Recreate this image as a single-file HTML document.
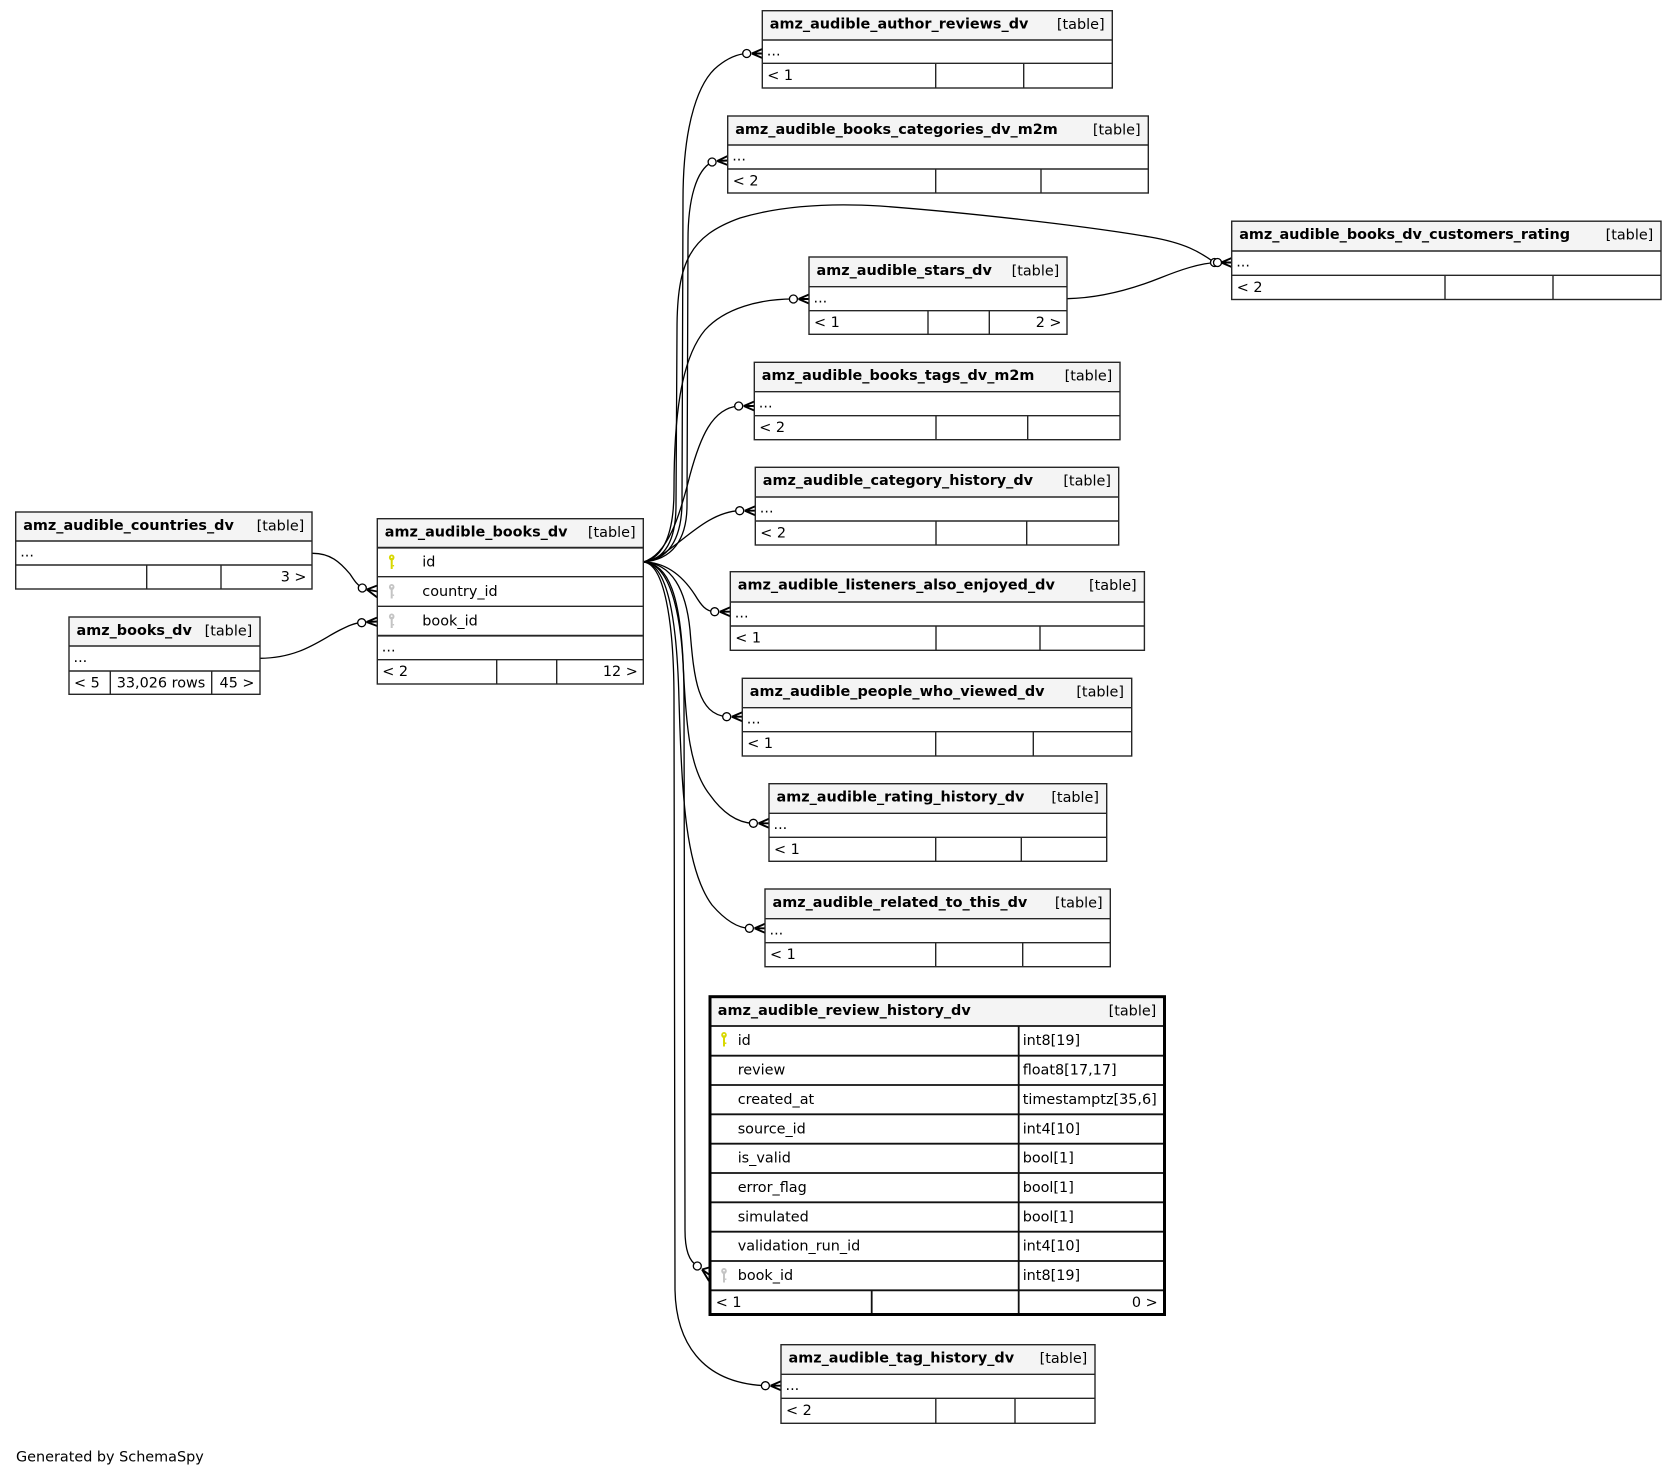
<!DOCTYPE html>
<html>
<head>
<meta charset="utf-8">
<style>
html,body{margin:0;padding:0;background:#fff;width:1677px;height:1477px;overflow:hidden;}
svg{display:block;}
text{font-family:"DejaVu Sans","Liberation Sans",sans-serif;font-size:14.4px;fill:#000;}
.b{font-weight:bold;}
.e{text-anchor:end;}
.m{text-anchor:middle;}
.hd{fill:#f4f4f4;}
.tb{fill:none;stroke:#262626;stroke-width:1.4;}
.ln{stroke:#262626;stroke-width:1.4;}
.ed{fill:none;stroke:#000;stroke-width:1.3;}
.cr{fill:none;stroke:#000;stroke-width:1.9;}
.dot{fill:#fff;stroke:#000;stroke-width:1.3;}
</style>
</head>
<body>
<svg width="1677" height="1477" viewBox="0 0 1677 1477" xmlns="http://www.w3.org/2000/svg">
<rect x="0" y="0" width="1677" height="1477" fill="#fff"/>

<!-- ================= EDGES ================= -->
<path class="ed" d="M643,562 C668,560 681,540 682,505 L683,200 C683,120 700,80 718,66 C728,58 737,54 746.7,53.5"/>
<path class="ed" d="M643,562 C672,560 687,540 687,505 L688,240 C688,200 696,170 712.1,162"/>
<path class="ed" d="M643,562 C665,560 676,540 676,505 L677,330 C677,262 690,236 740,218 C780,206 830,203 880,206 C960,212 1080,225 1150,237 C1185,243 1200,252 1214.5,262.5"/>
<path class="ed" d="M643,562 C665,558 674,530 674,490 C674,420 680,360 705,330 C725,308 760,299 793.4,299"/>
<path class="ed" d="M643,562 C668,555 680,515 690,475 C700,438 712,408 738.7,406"/>
<path class="ed" d="M643,562 C670,560 700,512 739.7,510.7"/>
<path class="ed" d="M643,562 C668,562 684,578 695,595 C701,605 706,611.7 714.7,611.7"/>
<path class="ed" d="M643,562 C672,563 686,590 690,630 C694,680 698,714 726.7,716.7"/>
<path class="ed" d="M643,562 C670,563 680,600 683,660 C686,730 690,770 710,795 C722,812 737,823 753.4,823.3"/>
<path class="ed" d="M643,562 C668,563 677,620 679,700 C682,800 686,870 712,905 C725,920 737,928 749.4,928.3"/>
<path class="ed" d="M643,562 C672,563 684,620 684,700 L685,1230 C685,1250 689,1261 697.3,1266"/>
<path class="ed" d="M643,562 C664,563 674,620 674,700 L675,1290 C676,1340 700,1383 765.4,1385.7"/>
<path class="ed" d="M312,553.3 C330,553 340,562 350,574 C354,580 357,585 362.3,588"/>
<path class="ed" d="M260,658.3 C300,658 320,640 340,630 C348,626 354,623 361.7,622.7"/>
<path class="ed" d="M1067,298.7 C1100,298 1130,290 1160,278 C1180,270 1200,263 1217.5,262.5"/>

<!-- crows + circles -->
<g>
<path class="cr" d="M751.8,53.5 L762.3,49 M751.8,53.5 L762.3,53.5 M751.8,53.5 L762.3,58"/>
<circle class="dot" cx="746.7" cy="53.5" r="4"/>
<path class="cr" d="M717.2,161 L727.7,156 M717.2,161 L727.7,160.5 M717.2,161 L727.7,165"/>
<circle class="dot" cx="712.1" cy="162" r="4"/>
<path class="cr" d="M798.5,299 L809,294.5 M798.5,299 L809,299 M798.5,299 L809,303.5"/>
<circle class="dot" cx="793.4" cy="299" r="4"/>
<path class="cr" d="M743.8,406 L754.3,401.5 M743.8,406 L754.3,406 M743.8,406 L754.3,410.5"/>
<circle class="dot" cx="738.7" cy="406" r="4"/>
<path class="cr" d="M744.8,510.7 L755.3,506.2 M744.8,510.7 L755.3,510.7 M744.8,510.7 L755.3,515.2"/>
<circle class="dot" cx="739.7" cy="510.7" r="4"/>
<path class="cr" d="M719.8,611.7 L730.3,607.2 M719.8,611.7 L730.3,611.7 M719.8,611.7 L730.3,616.2"/>
<circle class="dot" cx="714.7" cy="611.7" r="4"/>
<path class="cr" d="M731.8,716.7 L742.3,712.2 M731.8,716.7 L742.3,716.7 M731.8,716.7 L742.3,721.2"/>
<circle class="dot" cx="726.7" cy="716.7" r="4"/>
<path class="cr" d="M758.5,823.3 L769,818.8 M758.5,823.3 L769,823.3 M758.5,823.3 L769,827.8"/>
<circle class="dot" cx="753.4" cy="823.3" r="4"/>
<path class="cr" d="M754.5,928.3 L765,923.8 M754.5,928.3 L765,928.3 M754.5,928.3 L765,932.8"/>
<circle class="dot" cx="749.4" cy="928.3" r="4"/>
<path class="cr" d="M770.5,1385.7 L781,1381.2 M770.5,1385.7 L781,1385.7 M770.5,1385.7 L781,1390.2"/>
<circle class="dot" cx="765.4" cy="1385.7" r="4"/>
<path class="cr" d="M1221.2,262.5 L1231.7,258 M1221.2,262.5 L1231.7,262.5 M1221.2,262.5 L1231.7,267"/>
<circle class="dot" cx="1214.5" cy="262.5" r="4"/>
<circle class="dot" cx="1217.5" cy="262.5" r="4"/>
<path class="cr" d="M702,1269.5 L709,1267.5 M702,1269.5 L709,1274.5 M702,1269.5 L709,1281"/>
<circle class="dot" cx="697.3" cy="1266" r="4"/>
<path class="cr" d="M366.8,589.5 L377.3,585.5 M366.8,589.5 L377.3,591.5 M366.8,589.5 L377.3,597.5"/>
<circle class="dot" cx="362.3" cy="588" r="4"/>
<path class="cr" d="M366.5,622 L377.3,617.5 M366.5,622 L377.3,621.5 M366.5,622 L377.3,626"/>
<circle class="dot" cx="361.7" cy="622.7" r="4"/>
</g>

<!-- ================= TABLES ================= -->

<!-- author_reviews -->
<g>
<rect class="hd" x="762.3" y="10.7" width="350" height="29.3"/>
<rect class="tb" x="762.3" y="10.7" width="350" height="77.3"/>
<line class="ln" x1="762.3" y1="40" x2="1112.3" y2="40"/>
<line class="ln" x1="762.3" y1="63.3" x2="1112.3" y2="63.3"/>
<line class="ln" x1="935.7" y1="63.3" x2="935.7" y2="88"/>
<line class="ln" x1="1023.7" y1="63.3" x2="1023.7" y2="88"/>
<text class="b" x="769.8" y="28.5">amz_audible_author_reviews_dv</text>
<text class="e" x="1104.6" y="29">[table]</text>
<text x="766.8" y="55.7">...</text>
<text x="767.3" y="79.8">&lt; 1</text>
</g>

<!-- books_categories_dv_m2m -->
<g>
<rect class="hd" x="727.7" y="116" width="420.6" height="29"/>
<rect class="tb" x="727.7" y="116" width="420.6" height="77"/>
<line class="ln" x1="727.7" y1="145" x2="1148.3" y2="145"/>
<line class="ln" x1="727.7" y1="169" x2="1148.3" y2="169"/>
<line class="ln" x1="935.7" y1="169" x2="935.7" y2="193"/>
<line class="ln" x1="1041" y1="169" x2="1041" y2="193"/>
<text class="b" x="735.2" y="133.8">amz_audible_books_categories_dv_m2m</text>
<text class="e" x="1140.6" y="134.3">[table]</text>
<text x="732.2" y="160.7">...</text>
<text x="732.7" y="185.5">&lt; 2</text>
</g>

<!-- customers_rating -->
<g>
<rect class="hd" x="1231.7" y="221.2" width="429.3" height="29.8"/>
<rect class="tb" x="1231.7" y="221.2" width="429.3" height="78.3"/>
<line class="ln" x1="1231.7" y1="251" x2="1661" y2="251"/>
<line class="ln" x1="1231.7" y1="275.3" x2="1661" y2="275.3"/>
<line class="ln" x1="1445" y1="275.3" x2="1445" y2="299.5"/>
<line class="ln" x1="1553" y1="275.3" x2="1553" y2="299.5"/>
<text class="b" x="1239.2" y="239">amz_audible_books_dv_customers_rating</text>
<text class="e" x="1653.3" y="239.5">[table]</text>
<text x="1236.2" y="266.7">...</text>
<text x="1236.7" y="291.8">&lt; 2</text>
</g>

<!-- stars -->
<g>
<rect class="hd" x="809" y="257" width="258" height="29.7"/>
<rect class="tb" x="809" y="257" width="258" height="77.3"/>
<line class="ln" x1="809" y1="286.7" x2="1067" y2="286.7"/>
<line class="ln" x1="809" y1="310.7" x2="1067" y2="310.7"/>
<line class="ln" x1="928" y1="310.7" x2="928" y2="334.3"/>
<line class="ln" x1="989.3" y1="310.7" x2="989.3" y2="334.3"/>
<text class="b" x="816.5" y="274.8">amz_audible_stars_dv</text>
<text class="e" x="1059.3" y="275.3">[table]</text>
<text x="813.5" y="302.4">...</text>
<text x="814" y="327.2">&lt; 1</text>
<text class="e" x="1061.5" y="327.2">2 &gt;</text>
</g>

<!-- books_tags_dv_m2m -->
<g>
<rect class="hd" x="754.3" y="362.3" width="365.7" height="29.4"/>
<rect class="tb" x="754.3" y="362.3" width="365.7" height="77.4"/>
<line class="ln" x1="754.3" y1="391.7" x2="1120" y2="391.7"/>
<line class="ln" x1="754.3" y1="415.7" x2="1120" y2="415.7"/>
<line class="ln" x1="936" y1="415.7" x2="936" y2="439.7"/>
<line class="ln" x1="1027.7" y1="415.7" x2="1027.7" y2="439.7"/>
<text class="b" x="761.8" y="380.1">amz_audible_books_tags_dv_m2m</text>
<text class="e" x="1112.3" y="380.6">[table]</text>
<text x="758.8" y="407.4">...</text>
<text x="759.3" y="432.2">&lt; 2</text>
</g>

<!-- category_history -->
<g>
<rect class="hd" x="755.3" y="467.3" width="363.4" height="29.7"/>
<rect class="tb" x="755.3" y="467.3" width="363.4" height="77.7"/>
<line class="ln" x1="755.3" y1="497" x2="1118.7" y2="497"/>
<line class="ln" x1="755.3" y1="521" x2="1118.7" y2="521"/>
<line class="ln" x1="936" y1="521" x2="936" y2="545"/>
<line class="ln" x1="1026.7" y1="521" x2="1026.7" y2="545"/>
<text class="b" x="762.8" y="485.1">amz_audible_category_history_dv</text>
<text class="e" x="1111" y="485.6">[table]</text>
<text x="759.8" y="512.7">...</text>
<text x="760.3" y="537.5">&lt; 2</text>
</g>

<!-- listeners_also_enjoyed -->
<g>
<rect class="hd" x="730.3" y="571.7" width="414.1" height="30.3"/>
<rect class="tb" x="730.3" y="571.7" width="414.1" height="78.6"/>
<line class="ln" x1="730.3" y1="602" x2="1144.4" y2="602"/>
<line class="ln" x1="730.3" y1="626" x2="1144.4" y2="626"/>
<line class="ln" x1="936" y1="626" x2="936" y2="650.3"/>
<line class="ln" x1="1040" y1="626" x2="1040" y2="650.3"/>
<text class="b" x="737.8" y="589.5">amz_audible_listeners_also_enjoyed_dv</text>
<text class="e" x="1136.7" y="590">[table]</text>
<text x="734.8" y="617.7">...</text>
<text x="735.3" y="642.5">&lt; 1</text>
</g>

<!-- people_who_viewed -->
<g>
<rect class="hd" x="742.3" y="678.3" width="389.4" height="29.4"/>
<rect class="tb" x="742.3" y="678.3" width="389.4" height="77.7"/>
<line class="ln" x1="742.3" y1="707.7" x2="1131.7" y2="707.7"/>
<line class="ln" x1="742.3" y1="731.7" x2="1131.7" y2="731.7"/>
<line class="ln" x1="935.7" y1="731.7" x2="935.7" y2="756"/>
<line class="ln" x1="1033.3" y1="731.7" x2="1033.3" y2="756"/>
<text class="b" x="749.8" y="696.1">amz_audible_people_who_viewed_dv</text>
<text class="e" x="1124" y="696.6">[table]</text>
<text x="746.8" y="723.4">...</text>
<text x="747.3" y="748.2">&lt; 1</text>
</g>

<!-- rating_history -->
<g>
<rect class="hd" x="769" y="783.7" width="337.7" height="29.6"/>
<rect class="tb" x="769" y="783.7" width="337.7" height="77.6"/>
<line class="ln" x1="769" y1="813.3" x2="1106.7" y2="813.3"/>
<line class="ln" x1="769" y1="837.3" x2="1106.7" y2="837.3"/>
<line class="ln" x1="935.7" y1="837.3" x2="935.7" y2="861.3"/>
<line class="ln" x1="1021.3" y1="837.3" x2="1021.3" y2="861.3"/>
<text class="b" x="776.5" y="801.5">amz_audible_rating_history_dv</text>
<text class="e" x="1099" y="802">[table]</text>
<text x="773.5" y="829">...</text>
<text x="774" y="853.8">&lt; 1</text>
</g>

<!-- related_to_this -->
<g>
<rect class="hd" x="765" y="889" width="345.3" height="29.7"/>
<rect class="tb" x="765" y="889" width="345.3" height="77.7"/>
<line class="ln" x1="765" y1="918.7" x2="1110.3" y2="918.7"/>
<line class="ln" x1="765" y1="942.7" x2="1110.3" y2="942.7"/>
<line class="ln" x1="935.7" y1="942.7" x2="935.7" y2="966.7"/>
<line class="ln" x1="1022.7" y1="942.7" x2="1022.7" y2="966.7"/>
<text class="b" x="772.5" y="906.8">amz_audible_related_to_this_dv</text>
<text class="e" x="1102.6" y="907.3">[table]</text>
<text x="769.5" y="934.4">...</text>
<text x="770" y="959.2">&lt; 1</text>
</g>

<!-- review_history (focus table) -->
<g>
<rect class="hd" x="711" y="998" width="452" height="28"/>
<g stroke="#111" stroke-width="1.8">
<line x1="710" y1="1026" x2="1164.5" y2="1026"/>
<line x1="710" y1="1055.7" x2="1164.5" y2="1055.7"/>
<line x1="710" y1="1085" x2="1164.5" y2="1085"/>
<line x1="710" y1="1114.3" x2="1164.5" y2="1114.3"/>
<line x1="710" y1="1143.7" x2="1164.5" y2="1143.7"/>
<line x1="710" y1="1173" x2="1164.5" y2="1173"/>
<line x1="710" y1="1202.3" x2="1164.5" y2="1202.3"/>
<line x1="710" y1="1231.7" x2="1164.5" y2="1231.7"/>
<line x1="710" y1="1261" x2="1164.5" y2="1261"/>
<line x1="710" y1="1290.3" x2="1164.5" y2="1290.3"/>
<line x1="1018.7" y1="1026" x2="1018.7" y2="1314.5"/>
<line x1="871.7" y1="1290.3" x2="871.7" y2="1314.5"/>
</g>
<rect x="710" y="996.7" width="454.5" height="317.8" fill="none" stroke="#000" stroke-width="3"/>
<text class="b" x="717.8" y="1015">amz_audible_review_history_dv</text>
<text class="e" x="1156.3" y="1015.7">[table]</text>
<text x="737.7" y="1045">id</text><text x="1022.7" y="1045">int8[19]</text>
<text x="737.7" y="1074.7">review</text><text x="1022.7" y="1074.7">float8[17,17]</text>
<text x="737.7" y="1104">created_at</text><text x="1022.7" y="1104">timestamptz[35,6]</text>
<text x="737.7" y="1133.3">source_id</text><text x="1022.7" y="1133.3">int4[10]</text>
<text x="737.7" y="1162.7">is_valid</text><text x="1022.7" y="1162.7">bool[1]</text>
<text x="737.7" y="1192">error_flag</text><text x="1022.7" y="1192">bool[1]</text>
<text x="737.7" y="1221.3">simulated</text><text x="1022.7" y="1221.3">bool[1]</text>
<text x="737.7" y="1250.7">validation_run_id</text><text x="1022.7" y="1250.7">int4[10]</text>
<text x="737.7" y="1280">book_id</text><text x="1022.7" y="1280">int8[19]</text>
<text x="715.7" y="1307">&lt; 1</text>
<text class="e" x="1157.7" y="1307">0 &gt;</text>
<!-- keys -->
<g transform="translate(724,1032)" fill="#d8d800">
<ellipse cx="0" cy="3" rx="2.8" ry="3"/><circle cx="0" cy="2.6" r="0.9" fill="#fff"/>
<rect x="-1" y="5.5" width="2" height="9"/><rect x="1" y="10.5" width="1.4" height="1.4"/>
</g>
<g transform="translate(724,1268)" fill="#c4c4c4">
<ellipse cx="0" cy="3" rx="2.8" ry="3"/><circle cx="0" cy="2.6" r="0.9" fill="#fff"/>
<rect x="-1" y="5.5" width="2" height="9"/><rect x="1" y="10.5" width="1.4" height="1.4"/>
</g>
</g>

<!-- tag_history -->
<g>
<rect class="hd" x="781" y="1344.7" width="314" height="29.6"/>
<rect class="tb" x="781" y="1344.7" width="314" height="78.6"/>
<line class="ln" x1="781" y1="1374.3" x2="1095" y2="1374.3"/>
<line class="ln" x1="781" y1="1398.3" x2="1095" y2="1398.3"/>
<line class="ln" x1="935.8" y1="1398.3" x2="935.8" y2="1423.3"/>
<line class="ln" x1="1015" y1="1398.3" x2="1015" y2="1423.3"/>
<text class="b" x="788.5" y="1362.5">amz_audible_tag_history_dv</text>
<text class="e" x="1087.3" y="1363">[table]</text>
<text x="785.5" y="1390">...</text>
<text x="786" y="1414.8">&lt; 2</text>
</g>

<!-- countries -->
<g>
<rect class="hd" x="15.7" y="512" width="296.3" height="29"/>
<rect class="tb" x="15.7" y="512" width="296.3" height="77"/>
<line class="ln" x1="15.7" y1="541" x2="312" y2="541"/>
<line class="ln" x1="15.7" y1="565" x2="312" y2="565"/>
<line class="ln" x1="146.7" y1="565" x2="146.7" y2="589"/>
<line class="ln" x1="221" y1="565" x2="221" y2="589"/>
<text class="b" x="23.2" y="529.8">amz_audible_countries_dv</text>
<text class="e" x="304.3" y="530.3">[table]</text>
<text x="20.2" y="556.7">...</text>
<text class="e" x="306.5" y="581.5">3 &gt;</text>
</g>

<!-- books_dv -->
<g>
<rect class="hd" x="69" y="617" width="191" height="29"/>
<rect class="tb" x="69" y="617" width="191" height="77.3"/>
<line class="ln" x1="69" y1="646" x2="260" y2="646"/>
<line class="ln" x1="69" y1="671" x2="260" y2="671"/>
<line class="ln" x1="110.3" y1="671" x2="110.3" y2="694.3"/>
<line class="ln" x1="211.7" y1="671" x2="211.7" y2="694.3"/>
<text class="b" x="76.5" y="634.8">amz_books_dv</text>
<text class="e" x="252.3" y="635.3">[table]</text>
<text x="73.5" y="662">...</text>
<text x="74" y="687.5">&lt; 5</text>
<text class="m" x="161" y="687.5">33,026 rows</text>
<text class="e" x="254.5" y="687.5">45 &gt;</text>
</g>

<!-- audible_books_dv -->
<g>
<rect class="hd" x="377.3" y="518.7" width="266" height="29"/>
<rect class="tb" x="377.3" y="518.7" width="266" height="165.3"/>
<line class="ln" x1="377.3" y1="547.7" x2="643.3" y2="547.7" style="stroke-width:1.8"/>
<line class="ln" x1="377.3" y1="576.7" x2="643.3" y2="576.7"/>
<line class="ln" x1="377.3" y1="606.3" x2="643.3" y2="606.3"/>
<line class="ln" x1="377.3" y1="635.7" x2="643.3" y2="635.7" style="stroke-width:1.8"/>
<line class="ln" x1="377.3" y1="659.7" x2="643.3" y2="659.7"/>
<line class="ln" x1="496.7" y1="659.7" x2="496.7" y2="684"/>
<line class="ln" x1="556.7" y1="659.7" x2="556.7" y2="684"/>
<text class="b" x="384.8" y="536.5">amz_audible_books_dv</text>
<text class="e" x="635.6" y="537">[table]</text>
<text x="422.3" y="566.7">id</text>
<text x="422.3" y="596">country_id</text>
<text x="422.3" y="625.3">book_id</text>
<text x="381.8" y="651.4">...</text>
<text x="382.3" y="676.2">&lt; 2</text>
<text class="e" x="637.8" y="676.2">12 &gt;</text>
<g transform="translate(391.7,554.5)" fill="#d8d800">
<ellipse cx="0" cy="3" rx="2.8" ry="3"/><circle cx="0" cy="2.6" r="0.9" fill="#fff"/>
<rect x="-1" y="5.5" width="2" height="9"/><rect x="1" y="10.5" width="1.4" height="1.4"/>
</g>
<g transform="translate(391.7,584)" fill="#c4c4c4">
<ellipse cx="0" cy="3" rx="2.8" ry="3"/><circle cx="0" cy="2.6" r="0.9" fill="#fff"/>
<rect x="-1" y="5.5" width="2" height="9"/><rect x="1" y="10.5" width="1.4" height="1.4"/>
</g>
<g transform="translate(391.7,613.5)" fill="#c4c4c4">
<ellipse cx="0" cy="3" rx="2.8" ry="3"/><circle cx="0" cy="2.6" r="0.9" fill="#fff"/>
<rect x="-1" y="5.5" width="2" height="9"/><rect x="1" y="10.5" width="1.4" height="1.4"/>
</g>
</g>

<text x="16" y="1461.5">Generated by SchemaSpy</text>
</svg>
</body>
</html>
